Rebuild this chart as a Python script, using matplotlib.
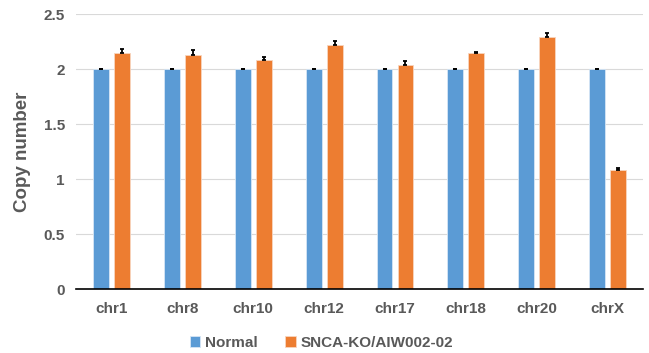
import numpy as np
import matplotlib
matplotlib.use("Agg")
from matplotlib import pyplot as plt

# values
chroms = ["chr1", "chr8", "chr10", "chr12", "chr17", "chr18", "chr20", "chrX"]
normal = [2.0, 2.0, 2.0, 2.0, 2.0, 2.0, 2.0, 2.0]
normal_err = [0.005, 0.005, 0.005, 0.005, 0.005, 0.005, 0.005, 0.005]
ko = [2.15, 2.13, 2.08, 2.22, 2.04, 2.145, 2.295, 1.08]
ko_err = [0.03, 0.04, 0.03, 0.04, 0.03, 0.015, 0.03, 0.02]
yticks = [0, 0.5, 1, 1.5, 2, 2.5]
ytick_labels = ["0", "0.5", "1", "1.5", "2", "2.5"]

blue = "#5B9BD5"
orange = "#ED7D31"
grey = "#595959"

plt.rcParams["font.family"] = ["Liberation Sans", "DejaVu Sans"]
plt.rcParams["font.weight"] = "bold"
plt.rcParams["axes.labelweight"] = "bold"

fig = plt.figure(figsize=(6.49, 3.53), dpi=100)
ax = fig.add_axes([0.117, 0.181, 0.874, 0.779])

x = np.arange(len(chroms))
w = 0.225
off = 0.148

zeros = np.zeros(len(chroms))
ekw = dict(ecolor="black", elinewidth=1.3, capsize=1.6, capthick=1.3)
ax.bar(x - off, normal, w, color=blue, edgecolor="#d6e6f5", linewidth=0.6,
       yerr=[zeros, normal_err], error_kw=ekw, label="Normal", zorder=3)
ax.bar(x + off, ko, w, color=orange, edgecolor="#f8d5bf", linewidth=0.6,
       yerr=[zeros, ko_err], error_kw=ekw, label="SNCA-KO/AIW002-02", zorder=3)

ax.set_xlim(-0.5, len(chroms) - 0.5)
ax.set_ylim(0, 2.5)
ax.set_yticks(yticks)
ax.set_yticklabels(ytick_labels)
ax.set_xticks(x)
ax.set_xticklabels(chroms)
ax.tick_params(axis="both", length=0, colors=grey, labelsize=11)
ax.tick_params(axis="x", pad=9)
ax.tick_params(axis="y", pad=8)
ax.yaxis.grid(True, color="#d9d9d9", linewidth=0.8, zorder=0)
ax.set_axisbelow(True)
for s in ["top", "right", "left"]:
    ax.spines[s].set_visible(False)
ax.spines["bottom"].set_color("black")
ax.spines["bottom"].set_linewidth(1.2)
ax.spines["bottom"].set_zorder(4)

ax.set_ylabel("Copy number", fontsize=13.5, color=grey, labelpad=9)

fig.legend(loc="lower center", bbox_to_anchor=(0.495, -0.03), ncol=2,
           frameon=False, fontsize=11, handlelength=0.7, handleheight=0.7,
           handletextpad=0.3, columnspacing=1.8, labelcolor=grey)

fig.savefig("out.png", dpi=100)
